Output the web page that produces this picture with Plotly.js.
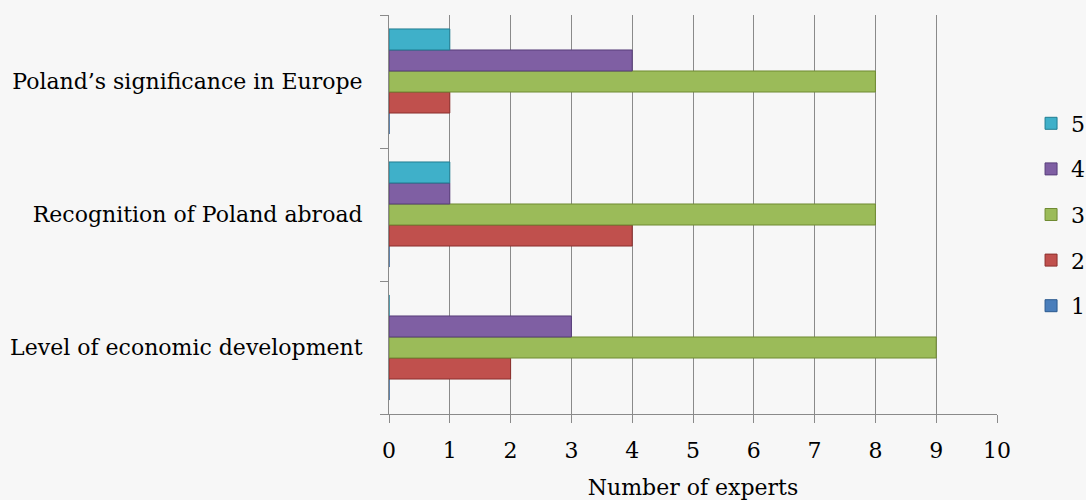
<!DOCTYPE html>
<html>
<head>
<meta charset="utf-8">
<script src="https://cdn.plot.ly/plotly-3.0.1.min.js"></script>
<style>html,body{margin:0;padding:0;background:#f7f7f7;}#chart{width:1086px;height:500px;}</style>
</head>
<body>
<div id="chart"></div>
<script>
const categories = ["Level of economic development", "Recognition of Poland abroad", "Poland’s significance in Europe"];
const seriesNames = ["1", "2", "3", "4", "5"];
const values1 = [0, 0, 0];
const values2 = [2, 4, 1];
const values3 = [9, 8, 8];
const values4 = [3, 1, 4];
const values5 = [0, 1, 1];
const xTicks = [0, 1, 2, 3, 4, 5, 6, 7, 8, 9, 10];

const allValues = [values1, values2, values3, values4, values5];
const colors = ["#4a7ebb", "#c0504d", "#9bbb59", "#7f5fa3", "#3fb0c9"];
const lineColors = ["#2c5a8f", "#8c2f2d", "#6f8a32", "#573d7a", "#217d92"];

const FONT = "DejaVu Serif, Liberation Serif, serif";

const traces = allValues.map((v, i) => ({
  type: "bar",
  orientation: "h",
  name: seriesNames[i],
  legendgroup: "g" + seriesNames[i],
  legendrank: 1000 - i,
  y: categories,
  x: v,
  marker: {color: colors[i], line: {color: lineColors[i], width: 1}},
  hoverinfo: "x+name"
}));

const layout = {
  width: 1086,
  height: 500,
  margin: {l: 389, r: 89, t: 15, b: 86, autoexpand: false},
  paper_bgcolor: "#f7f7f7",
  plot_bgcolor: "#f7f7f7",
  barmode: "group",
  bargap: 0.21,
  bargroupgap: 0,
  font: {family: FONT, size: 22, color: "#000"},
  showlegend: true,
  legend: {
    traceorder: "grouped",
    tracegroupgap: 14,
    x: 1.056, xanchor: "left",
    y: 0.5, yanchor: "middle",
    bgcolor: "rgba(0,0,0,0)",
    font: {family: FONT, size: 22, color: "#000"},
    itemwidth: 30
  },
  xaxis: {
    range: [0, 10],
    tickvals: xTicks,
    ticktext: xTicks.map(String),
    showgrid: true,
    gridcolor: "#8a8a8a",
    gridwidth: 1,
    showline: true,
    linecolor: "#8a8a8a",
    linewidth: 1,
    ticks: "outside",
    ticklen: 8,
    tickcolor: "#8a8a8a",
    tickwidth: 1,
    ticklabelstandoff: 9,
    zeroline: false,
    fixedrange: true,
    automargin: false,
    title: {text: "Number of experts", font: {family: FONT, size: 22, color: "#000"}, standoff: 18}
  },
  yaxis: {
    type: "category",
    categoryorder: "array",
    categoryarray: categories,
    showgrid: false,
    showline: true,
    linecolor: "#8a8a8a",
    linewidth: 1,
    ticks: "outside",
    tickson: "boundaries",
    ticklen: 8,
    tickcolor: "#8a8a8a",
    tickwidth: 1,
    ticklabelstandoff: 21,
    fixedrange: true,
    automargin: false
  }
};

Plotly.newPlot("chart", traces, layout, {displayModeBar: false, staticPlot: true});
</script>
</body>
</html>
